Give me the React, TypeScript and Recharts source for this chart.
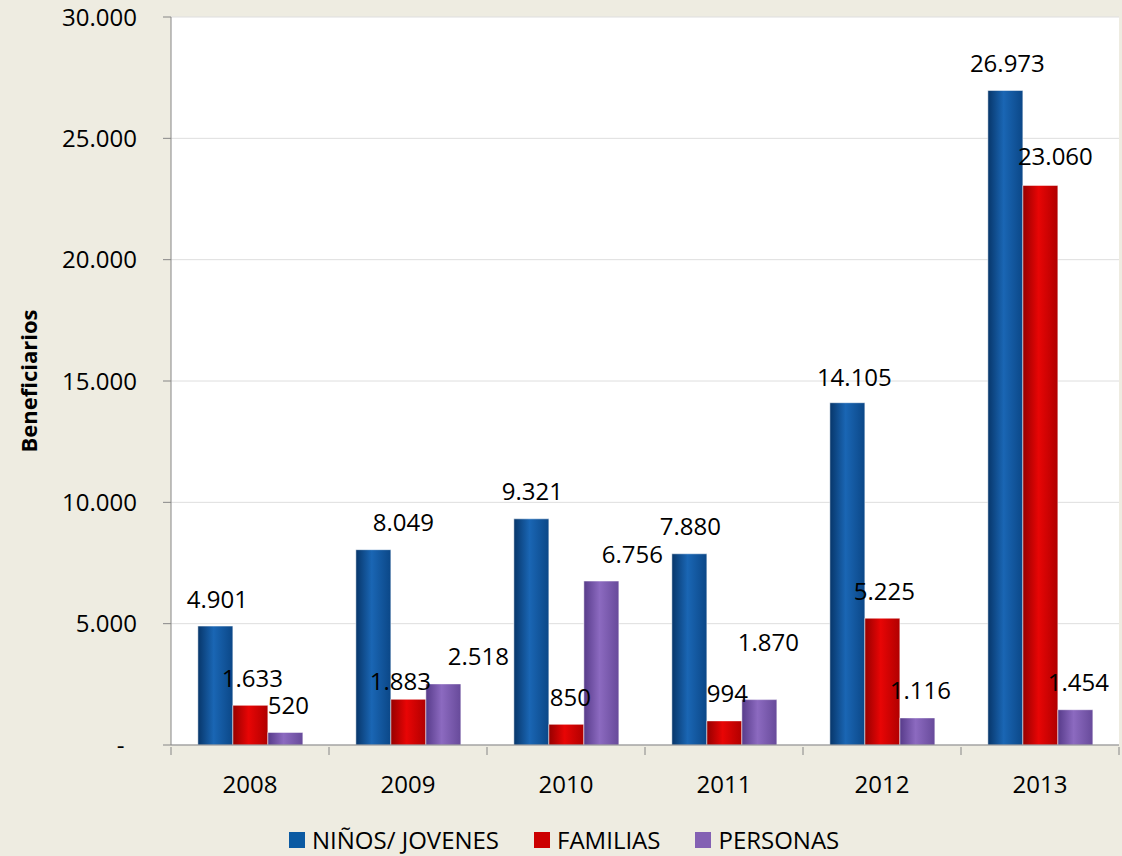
import { BarChart, Bar, XAxis, YAxis, CartesianGrid, LabelList, Label } from "recharts";

const years = ["2008", "2009", "2010", "2011", "2012", "2013"];
const ninosJovenes = [4901, 8049, 9321, 7880, 14105, 26973];
const familias = [1633, 1883, 850, 994, 5225, 23060];
const personas = [520, 2518, 6756, 1870, 1116, 1454];
const yTicks = [0, 5000, 10000, 15000, 20000, 25000, 30000];
const seriesNames = ["NIÑOS/ JOVENES", "FAMILIAS", "PERSONAS"];

// the labels in the original were dragged around by hand, these are the nudges
const ninosNudgeX = [2, 30, 1, 1, 7, 2];
const ninosNudgeY = [0, 0, 0, 0, 2, 0];
const familiasNudgeX = [2, -8, 4, 3, 2, 15];
const familiasNudgeY = [0, 9, 0, 0, 0, -2];
const personasNudgeX = [3, 35, 31, 9, 3, 3];
const personasNudgeY = [0, 0, 0, -30, 0, 0];

const data = years.map((year, i) => ({
  year,
  ninos: ninosJovenes[i],
  familias: familias[i],
  personas: personas[i],
}));

const FONT = "'Open Sans', 'Noto Sans', sans-serif";

const fmt = (v: number) => String(v).replace(/\B(?=(\d{3})+(?!\d))/g, ".");
const fmtAxis = (v: number) => (v === 0 ? "-\u00A0\u00A0" : fmt(v));

const makeLabel = (nx: number[], ny: number[]) => (props: any) => {
  const { x, y, width, value, index } = props;
  return (
    <text
      x={Number(x) + Number(width) / 2 + (nx[index] || 0)}
      y={Number(y) - 28 + (ny[index] || 0)}
      textAnchor="middle"
      dominantBaseline="central"
      fontSize={24}
      fontFamily={FONT}
      fill="#000"
    >
      {fmt(Number(value))}
    </text>
  );
};

const XTick = (props: any) => {
  const { x, y, payload, index, visibleTicksCount } = props;
  const half = payload && payload.offset ? payload.offset : 79;
  const last = index === (visibleTicksCount || years.length) - 1;
  return (
    <g>
      <line x1={x - half} x2={x - half} y1={y} y2={y + 8} stroke="#868686" />
      {last && <line x1={x + half} x2={x + half} y1={y} y2={y + 8} stroke="#868686" />}
      <text
        x={x}
        y={y + 36}
        textAnchor="middle"
        dominantBaseline="central"
        fontSize={24}
        fontFamily={FONT}
        fill="#000"
      >
        {payload.value}
      </text>
    </g>
  );
};

const legendColors = ["#0b5aa2", "#cc0000", "#8461b3"];

export default function App() {
  return (
    <div
      style={{
        position: "relative",
        width: 1122,
        height: 856,
        background: "#EEECE1",
        fontFamily: FONT,
        overflow: "hidden",
      }}
    >
      <style>{`body{margin:0}`}</style>
      <BarChart
        width={1122}
        height={800}
        data={data}
        margin={{ top: 17, right: 3, left: 0, bottom: 0 }}
        barCategoryGap="17%"
        barGap={0}
      >
        <defs>
          <linearGradient id="gBlue" x1="0" y1="0" x2="1" y2="0">
            <stop offset="0%" stopColor="#07366a" />
            <stop offset="45%" stopColor="#1a66b4" />
            <stop offset="100%" stopColor="#0b4787" />
          </linearGradient>
          <linearGradient id="gRed" x1="0" y1="0" x2="1" y2="0">
            <stop offset="0%" stopColor="#960000" />
            <stop offset="45%" stopColor="#e80505" />
            <stop offset="100%" stopColor="#b00000" />
          </linearGradient>
          <linearGradient id="gPurple" x1="0" y1="0" x2="1" y2="0">
            <stop offset="0%" stopColor="#573b8a" />
            <stop offset="45%" stopColor="#8c6ac0" />
            <stop offset="100%" stopColor="#674a9a" />
          </linearGradient>
        </defs>
        <CartesianGrid vertical={false} stroke="#dedede" fill="#ffffff" />
        <XAxis
          dataKey="year"
          height={55}
          tickSize={0}
          tickLine={false}
          axisLine={{ stroke: "#868686" }}
          tick={<XTick />}
          interval={0}
        />
        <YAxis
          width={171}
          domain={[0, 30000]}
          ticks={yTicks}
          tickFormatter={fmtAxis}
          tickSize={8}
          tickMargin={26}
          axisLine={{ stroke: "#868686" }}
          tickLine={{ stroke: "#868686" }}
          tick={{ fontSize: 24, fontFamily: FONT, fill: "#000" }}
          interval={0}
        >
          <Label
            content={(p: any) => {
              const vb = p.viewBox || {};
              const cy = vb.y !== undefined ? vb.y + vb.height / 2 : 381;
              return (
                <text
                  x={28}
                  y={cy}
                  transform={`rotate(-90, 28, ${cy})`}
                  textAnchor="middle"
                  dominantBaseline="central"
                  fontSize={22}
                  fontWeight="bold"
                  fontFamily={FONT}
                  fill="#000"
                >
                  Beneficiarios
                </text>
              );
            }}
          />
        </YAxis>
        <Bar dataKey="ninos" name={seriesNames[0]} fill="url(#gBlue)" stroke="#ffffff" strokeOpacity={0.5} isAnimationActive={false}>
          <LabelList dataKey="ninos" content={makeLabel(ninosNudgeX, ninosNudgeY)} />
        </Bar>
        <Bar dataKey="familias" name={seriesNames[1]} fill="url(#gRed)" stroke="#ffffff" strokeOpacity={0.5} isAnimationActive={false}>
          <LabelList dataKey="familias" content={makeLabel(familiasNudgeX, familiasNudgeY)} />
        </Bar>
        <Bar dataKey="personas" name={seriesNames[2]} fill="url(#gPurple)" stroke="#ffffff" strokeOpacity={0.5} isAnimationActive={false}>
          <LabelList dataKey="personas" content={makeLabel(personasNudgeX, personasNudgeY)} />
        </Bar>
      </BarChart>
      <div
        style={{
          position: "absolute",
          left: 289,
          top: 827,
          display: "flex",
          alignItems: "center",
          fontSize: 24,
          lineHeight: "26px",
          color: "#000",
        }}
      >
        {seriesNames.map((name, i) => (
          <div key={name} style={{ display: "flex", alignItems: "center", marginRight: 35 }}>
            <span style={{ width: 16, height: 16, background: legendColors[i], marginRight: 7, display: "inline-block" }} />
            <span>{name}</span>
          </div>
        ))}
      </div>
    </div>
  );
}
